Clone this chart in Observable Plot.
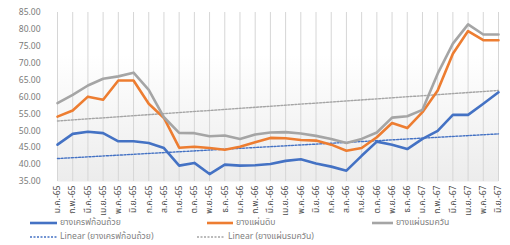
<!DOCTYPE html>
<html>
<head>
<meta charset="utf-8">
<script src="https://cdn.jsdelivr.net/npm/d3@7"></script>
<script src="https://cdn.jsdelivr.net/npm/@observablehq/plot@0.6"></script>
<style>
  html, body { margin: 0; padding: 0; background: #fff; }
  #wrap { position: relative; width: 510px; height: 245px; overflow: hidden;
          font-family: "Noto Sans Thai", "Leelawadee UI", Tahoma, "Noto Sans", "DejaVu Sans", sans-serif; }
  .lg { position: absolute; font-size: 8.6px; color: #7f7f7f; white-space: nowrap; line-height: 10px; height: 10px; display: flex; align-items: center; }
  .lg svg { margin-right: 3px; }
</style>
</head>
<body>
<div id="wrap"></div>
<script>
const months = ["ม.ค.-65","ก.พ.-65","มี.ค.-65","เม.ย.-65","พ.ค.-65","มิ.ย.-65","ก.ค.-65","ส.ค.-65","ก.ย.-65","ต.ค.-65","พ.ย.-65","ธ.ค.-65",
                "ม.ค.-66","ก.พ.-66","มี.ค.-66","เม.ย.-66","พ.ค.-66","มิ.ย.-66","ก.ค.-66","ส.ค.-66","ก.ย.-66","ต.ค.-66","พ.ย.-66","ธ.ค.-66",
                "ม.ค.-67","ก.พ.-67","มี.ค.-67","เม.ย.-67","พ.ค.-67","มิ.ย.-67"];
const cupLump = [45.9,49.1,49.7,49.3,46.9,46.9,46.4,44.9,39.7,40.5,37.2,40.0,39.7,39.8,40.2,41.1,41.6,40.3,39.4,38.2,42.6,46.8,45.9,44.6,47.6,50.0,54.7,54.7,58.0,61.4];
const rawSheet = [54.2,56.0,60.1,59.2,64.9,64.9,58.0,53.8,45.0,45.3,44.9,44.4,45.3,46.6,47.9,47.8,47.3,47.1,45.9,44.1,44.9,48.1,52.3,50.8,55.5,61.9,72.8,79.5,76.8,76.8];
const smoked = [58.2,60.6,63.4,65.4,66.1,67.2,62.1,54.0,49.4,49.3,48.4,48.6,47.6,48.9,49.5,49.6,49.2,48.5,47.6,46.4,47.6,49.5,53.9,54.3,56.2,66.9,75.8,81.5,78.5,78.5];
const seriesNames = ["ยางเครฟก้อนถ้วย","ยางแผ่นดิบ","ยางแผ่นรมควัน"];
const trendNames = ["Linear (ยางเครฟก้อนถ้วย)","Linear (ยางแผ่นรมควัน)"];
const yTicks = [35,40,45,50,55,60,65,70,75,80,85];

const colors = {blue: "#4472c4", orange: "#ed7d31", gray: "#a5a5a5"};
const idx = months.map((m, i) => i);
const rows = (vals) => vals.map((v, i) => ({i, v}));

const plot = Plot.plot({
  width: 510,
  height: 216,
  marginLeft: 57,
  marginRight: 12,
  marginTop: 12,
  marginBottom: 35,
  style: {fontFamily: "\"Noto Sans Thai\", Tahoma, \"Noto Sans\", \"DejaVu Sans\", sans-serif", background: "transparent"},
  x: {type: "linear", domain: [0, months.length - 1], ticks: idx, tickFormat: i => months[i], label: null},
  y: {domain: [35, 85], ticks: yTicks, tickFormat: d3.format(".2f"), label: null},
  marks: [
    Plot.frame({fill: "url(#plotbg)", stroke: "none"}),
    Plot.ruleX(idx, {x: d => d, y1: 35, y2: 85, stroke: "#d6d6d6", strokeWidth: 1}),
    Plot.axisY({ticks: yTicks, tickFormat: d3.format(".2f"), tickSize: 0, tickPadding: 17, fontSize: 8.5, fill: "#7a7a7a", label: null}),
    Plot.axisX({ticks: idx, tickFormat: i => months[i], tickSize: 0, tickPadding: 4, tickRotate: -90, fontSize: 8.6, fill: "#4a4a4a", label: null}),
    Plot.linearRegressionY(rows(cupLump), {x: "i", y: "v", ci: 0, stroke: colors.blue, strokeWidth: 1.4, strokeDasharray: "2,1.5"}),
    Plot.linearRegressionY(rows(smoked), {x: "i", y: "v", ci: 0, stroke: colors.gray, strokeWidth: 1.4, strokeDasharray: "2,1.5"}),
    Plot.line(rows(cupLump), {x: "i", y: "v", stroke: colors.blue, strokeWidth: 2.6}),
    Plot.line(rows(rawSheet), {x: "i", y: "v", stroke: colors.orange, strokeWidth: 2.6}),
    Plot.line(rows(smoked), {x: "i", y: "v", stroke: colors.gray, strokeWidth: 2.6})
  ]
});

// gradient background for the plot area
const svg = d3.select(plot);
const defs = svg.insert("defs", ":first-child");
const g = defs.append("linearGradient").attr("id", "plotbg").attr("x1", 0).attr("y1", 0).attr("x2", 0).attr("y2", 1);
g.append("stop").attr("offset", "0%").attr("stop-color", "#ffffff");
g.append("stop").attr("offset", "25%").attr("stop-color", "#ffffff");
g.append("stop").attr("offset", "100%").attr("stop-color", "#ececec");

const wrap = document.getElementById("wrap");
wrap.appendChild(plot);

function swatch(color, dash, w) {
  const dashAttr = dash ? ` stroke-dasharray="${dash}"` : "";
  return `<svg width="${w}" height="6"><line x1="0" y1="3" x2="${w}" y2="3" stroke="${color}" stroke-width="${dash ? 1.4 : 2.6}"${dashAttr}/></svg>`;
}
const legendItems = [
  {left: 30, top: 218, color: colors.blue, dash: null, w: 27, text: seriesNames[0]},
  {left: 207, top: 218, color: colors.orange, dash: null, w: 26, text: seriesNames[1]},
  {left: 372, top: 218, color: colors.gray, dash: null, w: 21, text: seriesNames[2]},
  {left: 30, top: 232, color: colors.blue, dash: "2,1.5", w: 27, text: trendNames[0]},
  {left: 197, top: 232, color: colors.gray, dash: "2,1.5", w: 28, text: trendNames[1]}
];
for (const it of legendItems) {
  const d = document.createElement("div");
  d.className = "lg";
  d.style.left = it.left + "px";
  d.style.top = it.top + "px";
  d.innerHTML = swatch(it.color, it.dash, it.w) + `<span>${it.text}</span>`;
  wrap.appendChild(d);
}
</script>
</body>
</html>
